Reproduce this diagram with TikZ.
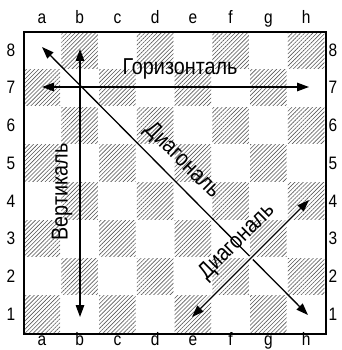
\documentclass[tikz,border=0pt]{standalone}
\usepackage{fontspec}
\setmainfont{Liberation Sans}[FakeStretch=0.86]
\usetikzlibrary{arrows.meta,patterns.meta}
\tikzset{
  hatch/.style={pattern={Lines[angle=45,distance=2.9pt,line width=0.6pt]},pattern color=black!65},
  coordlabel/.style={font=\fontsize{18}{18}\selectfont,inner sep=0pt,anchor=base},
  biglabel/.style={font=\fontsize{23}{23}\selectfont,inner sep=0pt},
  arr/.style={line width=1.3pt,{Triangle[length=12pt,width=8.5pt]}-{Triangle[length=12pt,width=8.5pt]}},
  frame/.style={line width=2pt}
}
\begin{document}
\begin{tikzpicture}[x=1pt,y=-1pt]
\useasboundingbox (0,0) rectangle (341,350);
\fill[white] (0,0) rectangle (341,350);
\def\sq{37.75}
% squares
\foreach \i in {0,...,7}{
  \foreach \r in {1,...,8}{
    \pgfmathtruncatemacro{\parity}{mod(\i+\r,2)}
    \ifnum\parity=1
      \fill[hatch] ({23+\i*\sq+0.6},{31+(8-\r)*\sq+0.6}) rectangle ({23+(\i+1)*\sq-0.6},{31+(9-\r)*\sq-0.6});
    \fi
  }
}
\node[draw,frame,minimum width=302pt,minimum height=302pt,anchor=north west,inner sep=0pt] (board) at (23,31) {};
% file and rank labels
\foreach \f [count=\k from 0] in {a,b,c,d,e,f,g,h}{
  \node[coordlabel] (top\f) at ({23+(\k+0.5)*\sq},24) {\f};
  \node[coordlabel] (bot\f) at ({23+(\k+0.5)*\sq},345) {\f};
}
\foreach \r in {1,...,8}{
  \node[coordlabel] (left\r) at (11,{31+(8.5-\r)*\sq+6.3}) {\r};
  \node[coordlabel] (right\r) at (333,{31+(8.5-\r)*\sq+6.3}) {\r};
}
% text labels
\node[biglabel] (hor) at (180,69) {Горизонталь};
\node[biglabel,rotate=90] (vert) at (62,192) {Вертикаль};
\node[biglabel,rotate=-45] (diag1) at (182,161) {Диагональ};
\node[biglabel,rotate=45] (diag2) at (237,242) {Диагональ};
% arrow end points
\coordinate (vt) at (80,49);
\coordinate (vb) at (80,317);
\coordinate (hl) at (42,87);
\coordinate (hr) at (309,87);
\coordinate (d1a) at (42,47);
\coordinate (d1b) at (308,315);
\coordinate (d2a) at (192,317);
\coordinate (d2b) at (309,200);
% arrows
\draw[arr] (vt) -- (vb);
\draw[arr] (hl) -- (hr);
\draw[arr] (d1a) -- (d1b);
\draw[white,line width=4.5pt,shorten <=12pt,shorten >=12pt] (d2a) -- (d2b);
\draw[arr] (d2a) -- (d2b);
\end{tikzpicture}
\end{document}
